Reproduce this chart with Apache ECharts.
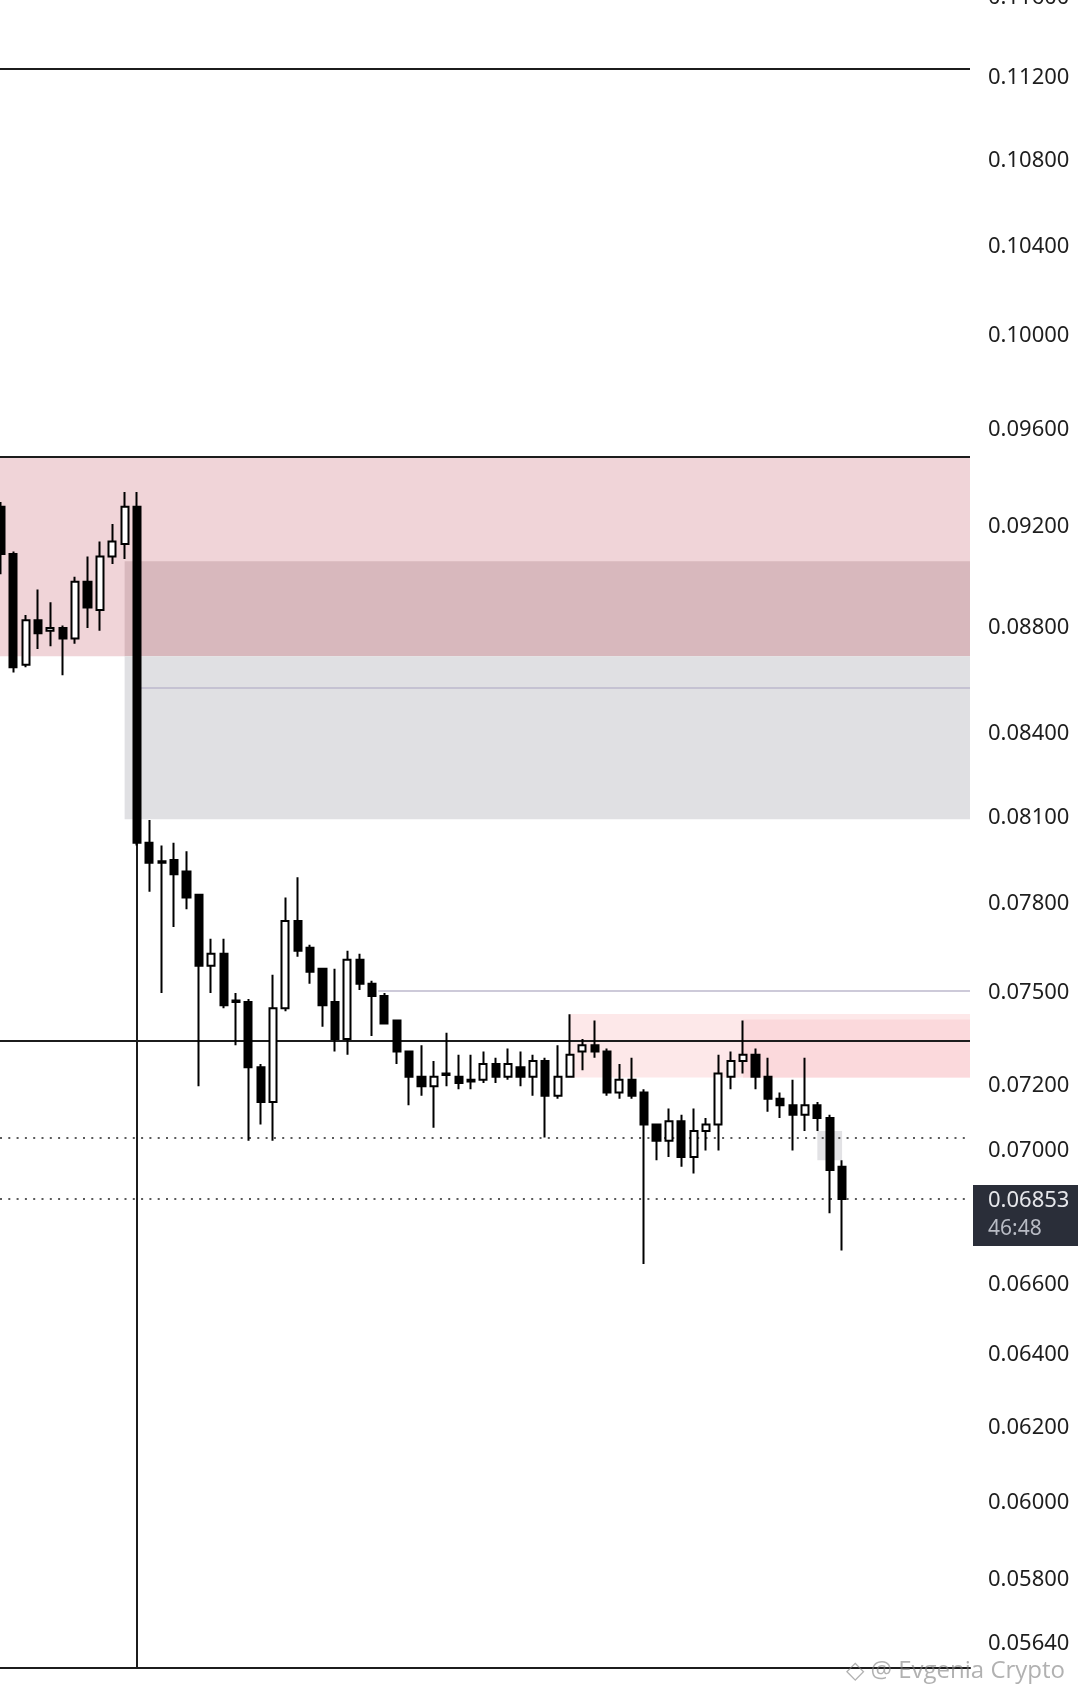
<!DOCTYPE html>
<html><head><meta charset="utf-8">
<script src="https://cdn.jsdelivr.net/npm/echarts@6/dist/echarts.min.js"></script>
<style>html,body{margin:0;padding:0;background:#fff;}#c{width:1078px;height:1696px;}</style>
</head><body><div id="c"></div>
<script>
// ---- data ----
const opens  = [0.0928,0.0909,0.0866,0.0883,0.0879,0.0880,0.0876,0.0898,0.0887,0.0908,0.0913,0.0928,
  0.0801,0.0794,0.0795,0.0791,0.0783,0.0759,0.0763,0.0747,0.0747,0.0726,0.0715,0.0745,0.0774,0.0765,
  0.0758,0.0747,0.0735,0.0761,0.0753,0.0749,0.0741,0.0731,0.0723,0.0720,0.0724,0.0723,0.0722,0.0722,
  0.0727,0.0723,0.0726,0.0723,0.0728,0.0717,0.0723,0.0731,0.0733,0.0731,0.0718,0.0722,0.0718,0.0708,
  0.0703,0.0709,0.0698,0.0706,0.0708,0.0723,0.0728,0.0730,0.0723,0.0716,0.0714,0.0711,0.0714,0.0710,0.0695];
const closes = [0.0909,0.0865,0.0883,0.0878,0.0880,0.0876,0.0898,0.0888,0.0908,0.0914,0.0928,0.0801,
  0.0794,0.07945,0.0790,0.0782,0.0759,0.0763,0.0746,0.07475,0.0726,0.0715,0.0745,0.0774,0.0764,0.0757,
  0.0746,0.0735,0.0761,0.0753,0.0749,0.0740,0.0731,0.0723,0.0720,0.0723,0.07235,0.0721,0.07215,0.0727,
  0.0723,0.0727,0.0723,0.0728,0.0717,0.0723,0.0730,0.0733,0.0731,0.0718,0.0722,0.0717,0.0708,0.0703,
  0.0709,0.0698,0.0706,0.0708,0.0724,0.0728,0.0730,0.0723,0.0716,0.0714,0.0711,0.0714,0.0710,0.0694,0.06853];
const lows   = [0.0901,0.0863,0.0865,0.0872,0.0873,0.0862,0.0874,0.0880,0.0879,0.0905,0.0907,0.0800,
  0.0784,0.0750,0.0772,0.0778,0.0720,0.0750,0.0745,0.0733,0.0703,0.0708,0.0703,0.0744,0.0762,0.0753,
  0.0739,0.0731,0.0730,0.0751,0.0736,0.0740,0.0727,0.0714,0.0717,0.0707,0.0720,0.0719,0.0719,0.0721,
  0.0721,0.0722,0.0720,0.0717,0.0704,0.0716,0.0723,0.0725,0.0729,0.0717,0.0716,0.0716,0.0666,0.0697,
  0.0698,0.0695,0.0693,0.0700,0.0700,0.0719,0.0724,0.0719,0.0712,0.0710,0.0700,0.0706,0.0706,0.0681,0.0670];
const highs  = [0.0930,0.0910,0.0885,0.0895,0.0890,0.0881,0.0900,0.0908,0.0914,0.0921,0.0934,0.0934,
  0.0809,0.0800,0.0801,0.0798,0.0783,0.0768,0.0768,0.0750,0.0748,0.0727,0.0756,0.0782,0.0789,0.0766,
  0.0758,0.0758,0.0764,0.0763,0.0754,0.0750,0.0741,0.0731,0.0733,0.0728,0.0737,0.0730,0.0730,0.0731,
  0.0729,0.0732,0.0731,0.0730,0.0729,0.0733,0.0743,0.0735,0.0741,0.0732,0.0727,0.0729,0.0719,0.0708,
  0.0713,0.0711,0.0713,0.0710,0.0730,0.0731,0.0741,0.0732,0.0729,0.0718,0.0722,0.0729,0.0715,0.0711,0.0697];
const yTickLabels = [0.116,0.112,0.108,0.104,0.100,0.096,0.092,0.088,0.084,0.081,0.078,0.075,0.072,0.070,
  0.066,0.064,0.062,0.060,0.058,0.0564];
const levelLines  = [0.11243, 0.09487, 0.07346];           // solid horizontal levels
const thinLines   = [[11, 0.08574], [30.5, 0.07508]];      // [start index, price]
const dottedLines = [0.0704, 0.06853];
const zones = [                                            // [start index, top price, bottom price]
  [null, 0.09487, 0.08692],
  [10, 0.09061, 0.08692],
  [10, 0.08692, 0.08093],
  [46, 0.07431, 0.07227],
  [60, 0.07413, 0.07227],
];
const ghostBox = [66, 68, 0.0706, 0.0697];                 // [from index, to index, top, bottom]
const vLine = [11, 0.0801];                                 // vertical line from candle down
const timerText = '46:48';
const watermark = '\u25C7 @ Evgenia Crypto';

// ---- chart ----
const xMin = -0.075, xMax = 78.34, yMin = 0.0558, yMax = 0.116;
const zoneColors = ['#f0d4d8', '#d8b8bd', '#e0e0e3', '#fde8e9', '#fbd9dc'];
const candles = opens.map((o, i) => [i, o, closes[i], lows[i], highs[i]]);

const markAreaData = zones.map((z, k) => [
  { coord: [z[0] == null ? xMin : z[0], z[1]], itemStyle: { color: zoneColors[k] } },
  { coord: [xMax, z[2]] }
]);
markAreaData.push([
  { coord: [ghostBox[0], ghostBox[2]], itemStyle: { color: '#e2e2e5' } },
  { coord: [ghostBox[1], ghostBox[3]] }
]);

const blackStyle = { color: '#1c1c1c', width: 2, type: 'solid' };
const markLineData = [];
levelLines.forEach(v => markLineData.push([{ coord: [xMin, v], lineStyle: blackStyle }, { coord: [xMax, v] }]));
thinLines.forEach(t => markLineData.push([{ coord: [t[0], t[1]], lineStyle: { color: '#bdb8cc', width: 1.6, type: 'solid' } }, { coord: [xMax, t[1]] }]));
dottedLines.forEach(v => markLineData.push([{ coord: [xMin, v], lineStyle: { color: '#5a5a5a', width: 2, type: [2, 6.3] } }, { coord: [78, v] }]));
markLineData.push([{ coord: [vLine[0], vLine[1]], lineStyle: blackStyle }, { coord: [vLine[0], yMin] }]);

const chart = echarts.init(document.getElementById('c'), null, { renderer: 'canvas' });
chart.setOption({
  animation: false,
  backgroundColor: '#ffffff',
  grid: { left: 0, right: 108, top: -2.6, bottom: 28, containLabel: false, outerBoundsMode: 'none' },
  xAxis: {
    type: 'value', min: xMin, max: xMax,
    axisLine: { show: true, onZero: false, lineStyle: { color: '#1c1c1c', width: 2 } },
    axisTick: { show: false }, axisLabel: { show: false }, splitLine: { show: false }
  },
  yAxis: {
    type: 'log', logBase: 10, min: yMin, max: yMax, position: 'right',
    axisLine: { show: false }, axisTick: { show: false }, splitLine: { show: false },
    axisLabel: {
      customValues: yTickLabels,
      formatter: v => Number(v).toFixed(5),
      color: '#1e1e1e', fontSize: 22, fontFamily: 'Noto Sans', margin: 18,
      padding: [4, 0, 0, 0]
    }
  },
  series: [
    {
      type: 'line', data: [], silent: true, z: 1,
      markArea: { silent: true, z: 1, data: markAreaData, label: { show: false } },
      markLine: { silent: true, symbol: 'none', z: 2, label: { show: false }, data: markLineData }
    },
    {
      type: 'candlestick', z: 5, data: candles, barWidth: 7.6,
      encode: { x: 0, y: [1, 2, 3, 4] },
      itemStyle: { color: '#ffffff', color0: '#000000', borderColor: '#000000', borderColor0: '#000000', borderColorDoji: '#000000', borderWidth: 2 }
    }
  ]
});

const last = closes[closes.length - 1];
const yPix = chart.convertToPixel({ yAxisIndex: 0 }, last);
const xPix = chart.convertToPixel({ xAxisIndex: 0 }, xMax);
chart.setOption({
  graphic: [
    { type: 'rect', shape: { x: xPix + 3, y: yPix - 14, width: 112, height: 61 }, style: { fill: '#2a2e39' }, z: 100 },
    { type: 'text', x: xPix + 18, y: yPix + 2, style: { text: last.toFixed(5), fill: '#e6e7eb', fontSize: 22, fontFamily: 'Noto Sans', verticalAlign: 'middle', align: 'left' }, z: 101 },
    { type: 'text', x: xPix + 18, y: yPix + 30, style: { text: timerText, fill: '#b8bbc4', fontSize: 21, fontFamily: 'Noto Sans', verticalAlign: 'middle', align: 'left' }, z: 101 },
    { type: 'text', right: 13, bottom: 13, style: { text: watermark, fill: 'rgba(125,125,125,0.6)', fontSize: 24, fontFamily: 'Open Sans' }, z: 102 }
  ]
});
</script></body></html>
